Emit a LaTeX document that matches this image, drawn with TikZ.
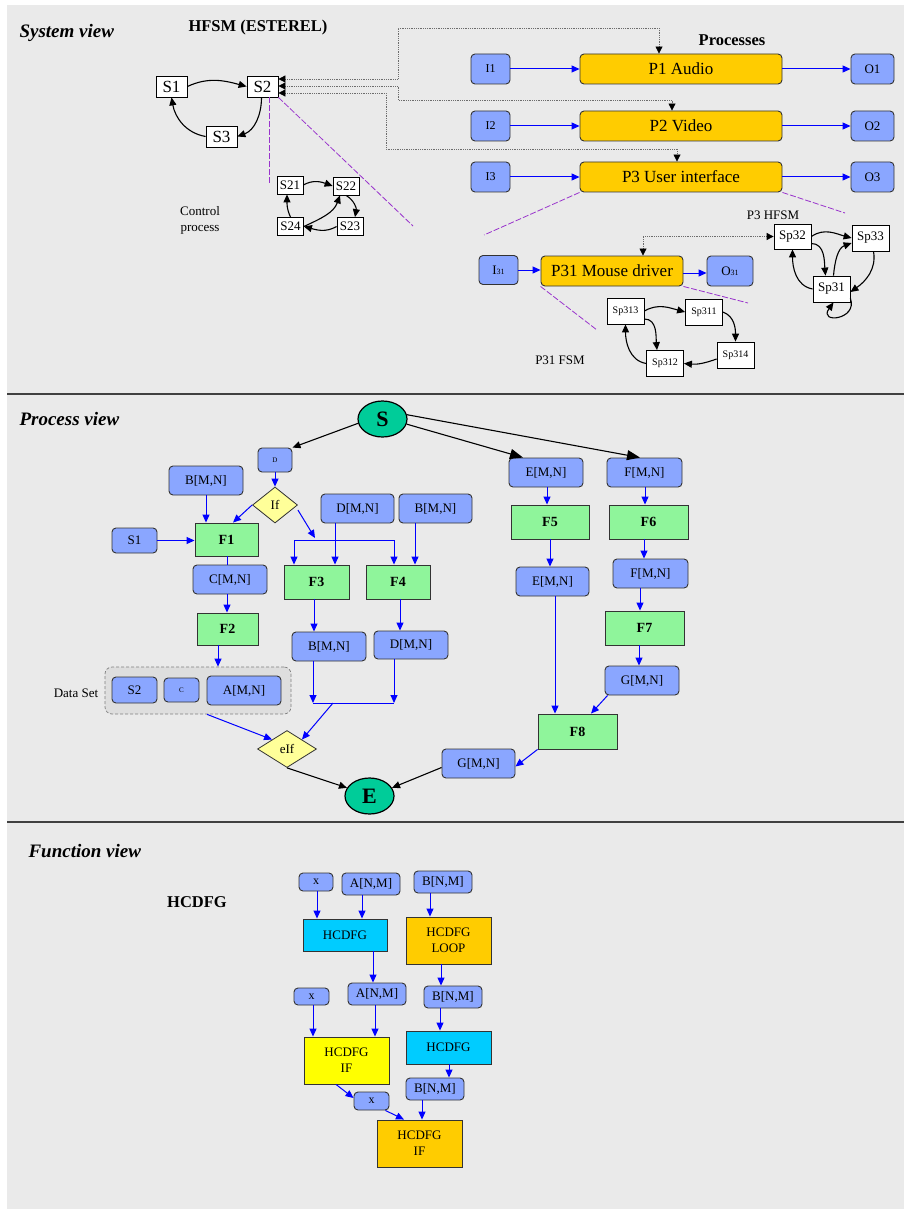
\documentclass[tikz,border=0pt]{standalone}
\usepackage{fontspec}
\setmainfont{Liberation Serif}
\usetikzlibrary{arrows.meta,shapes.geometric}

\definecolor{bgc}{HTML}{EAEAEA}
\definecolor{bluebox}{HTML}{8AA6FF}
\definecolor{orbox}{HTML}{FFCC00}
\definecolor{grbox}{HTML}{8FF59B}
\definecolor{ellfill}{HTML}{00CC99}
\definecolor{diafill}{HTML}{FFFF99}
\definecolor{cyanbox}{HTML}{00CCFF}
\definecolor{yelbox}{HTML}{FFFF00}
\definecolor{purp}{HTML}{9933CC}
\definecolor{dsfill}{HTML}{DEDEDE}
\definecolor{arrblue}{HTML}{0000FF}
\definecolor{edge}{HTML}{333333}

\newcommand{\myfs}[2]{\fontsize{#1}{#2}\selectfont}

\begin{document}
\begin{tikzpicture}[x=1pt,y=-1pt,
  sz/.style 2 args={minimum width=#1pt,minimum height=#2pt,inner sep=0pt},
  dat/.style={draw=edge,fill=bluebox,rounded corners=4pt,line width=0.9pt,inner sep=0pt,font=\myfs{13}{15}},
  proc/.style={draw=edge,fill=orbox,rounded corners=4pt,line width=0.9pt,inner sep=0pt,font=\myfs{17}{19}},
  fun/.style={draw=edge,fill=grbox,line width=0.9pt,inner sep=0pt,font=\bfseries\myfs{14}{16}},
  state/.style={draw=black,fill=white,line width=0.8pt,inner sep=0pt},
  hc/.style={draw=edge,line width=0.9pt,inner sep=0pt,align=center,font=\myfs{13}{16}},
  ell/.style={ellipse,draw=black,fill=ellfill,line width=1.2pt,minimum width=49pt,minimum height=36pt,inner sep=0pt,font=\bfseries\myfs{22}{22}},
  dia/.style={diamond,draw=edge,fill=diafill,line width=0.8pt,inner sep=0pt,font=\myfs{13}{13}},
  ba/.style={draw=arrblue,line width=1pt,-{Triangle[length=8pt,width=7pt]}},
  bl/.style={draw=arrblue,line width=1pt},
  ka/.style={draw=black,line width=1.1pt,-{Triangle[length=8pt,width=7pt]}},
  bigka/.style={draw=black,line width=1.1pt,-{Triangle[length=13pt,width=10pt]}},
  dl/.style={draw=gray!85!black,densely dotted,line width=0.8pt,
     {Triangle[length=7pt,width=7pt,color=black]}-{Triangle[length=7pt,width=7pt,color=black]}},
  pd/.style={draw=purp,line width=0.8pt,dash pattern=on 6pt off 2pt},
  sepl/.style={draw=black!75,line width=1.5pt},
  viewtitle/.style={anchor=west,font=\bfseries\itshape\myfs{19}{21}},
  head/.style={font=\bfseries\myfs{16.5}{18}},
  lbl/.style={font=\myfs{13}{16},align=center}
]
\useasboundingbox (0,0) rectangle (904,1209);
\fill[bgc] (7,5) rectangle (904,1209);
\draw[sepl] (7,394) -- (904,394);
\draw[sepl] (7,822) -- (904,822);

% ---------------- System view ----------------
\node[viewtitle] (tsys) at (16,33) {System view};
\node[head] (thfsm) at (258,28) {HFSM (ESTEREL)};
\node[head] (tproc) at (732,40) {Processes};

% top level state machine
\node[state,sz={31}{21},font=\myfs{17}{17}] (s1) at (171.5,86.5) {S1};
\node[state,sz={31}{21},font=\myfs{17}{17}] (s2) at (262.5,86.5) {S2};
\node[state,sz={31}{21},font=\myfs{17}{17}] (s3) at (221.5,136.5) {S3};
\draw[ka] (s1.east) to[out=25,in=165] (s2.west);
\draw[ka] ([xshift=-1pt]s2.south) to[out=-90,in=20] (s3.east);
\draw[ka] (s3.west) to[out=170,in=-80] (s1.south);

% control process
\node[state,sz={26}{18},font=\myfs{13}{13}] (s21) at (290,185) {S21};
\node[state,sz={26}{18},font=\myfs{13}{13}] (s22) at (346,186) {S22};
\node[state,sz={26}{18},font=\myfs{13}{13}] (s24) at (290.5,226.5) {S24};
\node[state,sz={26}{18},font=\myfs{13}{13}] (s23) at (350,226.5) {S23};
\draw[ka] (s21.east) to[out=30,in=160] (s22.west);
\draw[ka] (s22.south) to[out=-30,in=80] ([xshift=5pt]s23.north);
\draw[ka] (s23.west) to[out=210,in=-15] (s24.east);
\draw[ka] (s24.north) to[out=115,in=-90] ([xshift=-3pt]s21.south);
\draw[ka] (s24.east) to[out=25,in=-110] ([xshift=-6pt]s22.south);
\node[lbl] (ctl) at (200,220) {Control\\process};

% processes
\node[dat,sz={39}{30},font=\myfs{12}{12}] (i1) at (490.5,69) {I1};
\node[dat,sz={39}{30},font=\myfs{12}{12}] (i2) at (490.5,126) {I2};
\node[dat,sz={39}{30},font=\myfs{12}{12}] (i3) at (490.5,177) {I3};
\node[proc,sz={202}{30}] (p1) at (681,69) {P1 Audio};
\node[proc,sz={202}{30}] (p2) at (681,126) {P2 Video};
\node[proc,sz={202}{30}] (p3) at (681,177) {P3 User interface};
\node[dat,sz={43}{30}] (o1) at (872.5,69) {O1};
\node[dat,sz={43}{30}] (o2) at (872.5,126) {O2};
\node[dat,sz={43}{30}] (o3) at (872.5,177) {O3};
\draw[ba] (i1) -- (p1);
\draw[ba] (i2) -- (p2);
\draw[ba] (i3) -- (p3);
\draw[ba] (p1) -- (o1);
\draw[ba] (p2) -- (o2);
\draw[ba] (p3) -- (o3);

% control links from S2 to the processes
\draw[dl] ([yshift=7.5pt]s2.east) -| (398,28) -| ([xshift=-22pt]p1.north);
\draw[dl] ([yshift=0.5pt]s2.east) -| (398,100) -| ([xshift=-9pt]p2.north);
\draw[dl] ([yshift=-6.5pt]s2.east) -| (386,149) -| ([xshift=-4pt]p3.north);

% P31 sub-process
\node[dat,sz={39}{29},font=\myfs{13}{13}] (i31) at (498.5,270) {I{\myfs{8}{8}31}};
\node[proc,sz={142}{30}] (p31) at (612,271) {P31 Mouse driver};
\node[dat,sz={46}{30},font=\myfs{13}{13}] (o31) at (730,271) {O{\myfs{8}{8}31}};
\draw[ba] (i31.east) -- (i31.east -| p31.west);
\draw[ba] ([yshift=-2pt]p31.east) -- ([yshift=-2pt]o31.west);

% P3 HFSM
\node[lbl] (tp3) at (773,215) {P3 HFSM};
\node[state,sz={37}{25},font=\myfs{13}{13}] (sp32) at (792.5,236.5) {Sp32};
\node[state,sz={37}{26},font=\myfs{13}{13}] (sp33) at (870.5,238) {Sp33};
\node[state,sz={37}{26},font=\myfs{13}{13}] (sp31) at (831.5,289) {Sp31};
\draw[ka] (sp32.east) to[out=35,in=165] (sp33.west);
\draw[ka] ([yshift=-7pt]sp32.east) to[out=0,in=95] ([xshift=-6pt]sp31.north);
\draw[ka] ([xshift=2pt]sp31.north) to[out=85,in=200] ([yshift=-5pt]sp33.west);
\draw[ka] ([xshift=3pt]sp33.south) to[out=-80,in=35] ([yshift=-3pt]sp31.east);
\draw[ka] (sp31.west) to[out=170,in=-90] (sp32.south);
\draw[ka] ([yshift=4pt]sp31.south east) .. controls (858,320) and (818,324) .. ([xshift=2pt]sp31.south);
\draw[dl] ([xshift=31pt]p31.north) |- (sp32.west);

% P31 FSM
\node[lbl] (tp31) at (560,360) {P31 FSM};
\node[state,sz={37}{26},font=\myfs{10}{10}] (sp313) at (625.5,311) {Sp313};
\node[state,sz={37}{26},font=\myfs{10}{10}] (sp311) at (704,312) {Sp311};
\node[state,sz={37}{26},font=\myfs{10}{10}] (sp314) at (735.5,355) {Sp314};
\node[state,sz={37}{26},font=\myfs{10}{10}] (sp312) at (665,363.5) {Sp312};
\draw[ka] (sp313.east) to[out=30,in=165] (sp311.west);
\draw[ka] (sp311.east) to[out=-20,in=90] (sp314.north);
\draw[ka] ([yshift=-4pt]sp314.west) to[out=200,in=-5] (sp312.east);
\draw[ka] (sp312.west) to[out=170,in=-90] (sp313.south);
\draw[ka] ([yshift=-8pt]sp313.east) to[out=0,in=95] ([xshift=-8pt]sp312.north);

% zoom guides
\coordinate (pa) at (269,185);
\coordinate (pb) at (413,226);
\coordinate (pc) at (484,235);
\coordinate (pq) at (845,213);
\coordinate (pe) at (597,330);
\coordinate (pf) at (748,303);
\draw[pd] ([xshift=6.5pt]s2.south) -- (pa);
\draw[pd] (s2.south east) -- (pb);
\draw[pd] (p3.south west) -- (pc);
\draw[pd] (p3.south east) -- (pq);
\draw[pd] (p31.south west) -- (pe);
\draw[pd] (p31.south east) -- (pf);

% ---------------- Process view ----------------
\node[viewtitle] (tpv) at (16,419) {Process view};
\node[ell] (S) at (382.5,419) {S};
\node[ell] (E) at (369.5,796) {E};

\node[dat,sz={34}{24},font=\myfs{7}{7}] (D) at (275,460) {D};
\node[dia,minimum width=45pt,minimum height=36pt] (if) at (275,505) {If};
\node[dat,sz={74}{29}] (bmn1) at (206,480.5) {B[M,N]};
\node[fun,sz={63}{33}] (f1) at (226.5,539.5) {F1};
\node[dat,sz={45}{25}] (s1p) at (134.5,540.5) {S1};
\node[dat,sz={74}{29}] (cmn) at (230,579.5) {C[M,N]};
\node[fun,sz={61}{32}] (f2) at (227.5,629) {F2};

\node[draw=gray,densely dashed,fill=dsfill,rounded corners=7pt,line width=0.7pt,sz={186}{47}] (ds) at (198,690.5) {};
\node[lbl] (dslbl) at (76,693) {Data Set};
\node[dat,sz={45}{26}] (s2p) at (134.5,690) {S2};
\node[dat,sz={35}{24},font=\myfs{7}{7}] (cp) at (181.5,690) {C};
\node[dat,sz={74}{29}] (amn) at (244,690.5) {A[M,N]};

\node[dat,sz={73}{29}] (dmn1) at (357.5,508.5) {D[M,N]};
\node[dat,sz={73}{29}] (bmn2) at (435.5,508.5) {B[M,N]};
\node[fun,sz={65}{34}] (f3) at (316.5,582) {F3};
\node[fun,sz={64}{34}] (f4) at (398,582) {F4};
\node[dat,sz={74}{29}] (bmn3) at (329,646.5) {B[M,N]};
\node[dat,sz={74}{28}] (dmn2) at (411,645) {D[M,N]};
\node[dia,minimum width=59pt,minimum height=37pt] (eif) at (287,749) {eIf};

\node[dat,sz={74}{29}] (emn1) at (546,472.5) {E[M,N]};
\node[dat,sz={75}{29}] (fmn1) at (644.5,472.5) {F[M,N]};
\node[fun,sz={78}{34}] (f5) at (550,522) {F5};
\node[fun,sz={79}{34}] (f6) at (648.5,522) {F6};
\node[dat,sz={73}{29}] (emn2) at (552.5,581.5) {E[M,N]};
\node[dat,sz={75}{29}] (fmn2) at (650.5,573.5) {F[M,N]};
\node[fun,sz={79}{34}] (f7) at (644.5,628) {F7};
\node[dat,sz={74}{29}] (gmn2) at (642,680.5) {G[M,N]};
\node[fun,sz={79}{35}] (f8) at (577.5,731.5) {F8};
\node[dat,sz={73}{29}] (gmn1) at (478.5,763.5) {G[M,N]};

% control flow
\draw[ka] (S.190) -- (D.north east);
\draw[bigka] (S.-12) -- ([xshift=-23pt]emn1.north);
\draw[bigka] (S.10) -- ([xshift=-4.5pt]fmn1.north);
\draw[ba] (D) -- (if);
\draw[ba] (if.west) -- ([xshift=6.5pt]f1.north);
\coordinate (jn) at (315,538);
\coordinate (jl) at (294,540);
\coordinate (jr) at (394,540);
\draw[ba] ([yshift=-5pt]if.east) -- (jn);
\draw[bl] (jl) -- (jr);
\draw[ba] (jl) -- (jl |- f3.north);
\draw[ba] (jr) -- (jr |- f4.north);
\draw[ba] (335,0 |- dmn1.south) -- (335,0 |- f3.north);
\draw[ba] (415,0 |- bmn2.south) -- (415,0 |- f4.north);
\draw[ba] (206,0 |- bmn1.south) -- (206,0 |- f1.north);
\draw[ba] (s1p.east) -- (s1p.east -| f1.west);
\draw[bl] (227,0 |- f1.south) -- (227,0 |- cmn.north);
\draw[ba] (227,0 |- cmn.south) -- (227,0 |- f2.north);
\draw[ba] (218,0 |- f2.south) -- (218,0 |- ds.north);
\draw[ba] (314,0 |- f3.south) -- (314,0 |- bmn3.north);
\draw[ba] (400,0 |- f4.south) -- (400,0 |- dmn2.north);
\coordinate (kl) at (313,703);
\coordinate (kr) at (394,703);
\coordinate (km) at (333,703);
\draw[bl] (kl) -- (kr);
\draw[ba] (313,0 |- bmn3.south) -- (kl);
\draw[ba] (394,0 |- dmn2.south) -- (kr);
\draw[ba] (km) -- (eif.north east);
\draw[ba] (207,0 |- ds.south) -- (eif.north west);
\draw[ka] (eif.south) -- (E.160);
\draw[ka] ([yshift=-4pt]gmn1.west) -- (E.20);

\draw[ba] (547,0 |- emn1.south) -- (547,0 |- f5.north);
\draw[ba] (645,0 |- fmn1.south) -- (645,0 |- f6.north);
\draw[ba] (550,0 |- f5.south) -- (550,0 |- emn2.north);
\draw[ba] (644,0 |- f6.south) -- (644,0 |- fmn2.north);
\draw[ba] (640,0 |- fmn2.south) -- (640,0 |- f7.north);
\draw[ba] (639,0 |- f7.south) -- (639,0 |- gmn2.north);
\draw[ba] (555,0 |- emn2.south) -- (555,0 |- f8.north);
\draw[ba] ([xshift=3pt]gmn2.south west) -- ([xshift=13.5pt]f8.north);
\draw[ba] (f8.south west) -- ([yshift=-3pt]gmn1.east);

% ---------------- Function view ----------------
\node[viewtitle] (tfv) at (25,851) {Function view};
\node[head] (thc) at (197,902) {HCDFG};

\node[dat,sz={34}{18},font=\myfs{12}{12}] (x1) at (316,882) {x};
\node[dat,sz={58}{22}] (a1) at (371,884) {A[N,M]};
\node[dat,sz={58}{22}] (b1) at (443,882) {B[N,M]};
\node[hc,fill=cyanbox,sz={84}{32}] (hc1) at (345,935) {HCDFG};
\node[hc,fill=orbox,sz={85}{47}] (loop) at (448.5,940.5) {HCDFG\\LOOP};
\node[dat,sz={35}{17},font=\myfs{12}{12}] (x2) at (311.5,996.5) {x};
\node[dat,sz={58}{22}] (a2) at (377,994) {A[N,M]};
\node[dat,sz={58}{22}] (b2) at (453,997) {B[N,M]};
\node[hc,fill=yelbox,sz={85}{47}] (ify) at (346.5,1060.5) {HCDFG\\IF};
\node[hc,fill=cyanbox,sz={85}{33}] (hc2) at (448.5,1047.5) {HCDFG};
\node[dat,sz={58}{22}] (b3) at (435,1089) {B[N,M]};
\node[dat,sz={35}{18},font=\myfs{12}{12}] (x3) at (371.5,1101) {x};
\node[hc,fill=orbox,sz={85}{47}] (ifo) at (419.5,1143.5) {HCDFG\\IF};

\draw[ba] (317,0 |- x1.south) -- (317,0 |- hc1.north);
\draw[ba] (362,0 |- a1.south) -- (362,0 |- hc1.north);
\draw[ba] (430,0 |- b1.south) -- (430,0 |- loop.north);
\draw[ba] (373,0 |- hc1.south) -- (373,0 |- a2.north);
\draw[ba] (441,0 |- loop.south) -- (441,0 |- b2.north);
\draw[ba] (313,0 |- x2.south) -- (313,0 |- ify.north);
\draw[ba] (375,0 |- a2.south) -- (375,0 |- ify.north);
\draw[ba] (440,0 |- b2.south) -- (440,0 |- hc2.north);
\draw[ba] (449,0 |- hc2.south) -- (449,0 |- b3.north);
\draw[ba] (336,0 |- ify.south) -- ([yshift=3pt]x3.west);
\draw[ba] ([xshift=-4pt]x3.south east) -- ([xshift=-15.5pt]ifo.north);
\draw[ba] (422,0 |- b3.south) -- (422,0 |- ifo.north);
\end{tikzpicture}
\end{document}
